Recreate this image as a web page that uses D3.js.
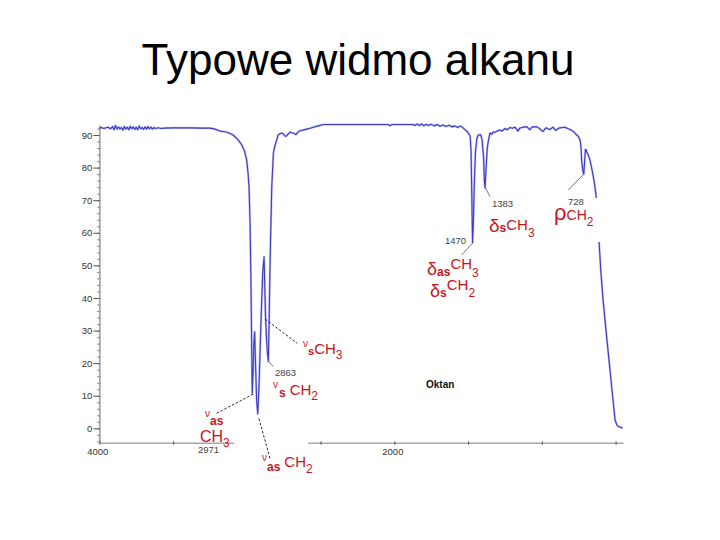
<!DOCTYPE html>
<html>
<head>
<meta charset="utf-8">
<script src="https://cdn.jsdelivr.net/npm/d3@7"></script>
<style>
  html, body { margin: 0; padding: 0; background: #fff; }
  svg { display: block; }
</style>
</head>
<body>
<svg id="chart" width="720" height="540"></svg>
<script>
// ---------------- DATA ----------------
const title = "Typowe widmo alkanu";

// wavenumber (cm-1) and transmittance (%)
const wavenumber = [
  4000, 3985, 3970, 3955, 3940, 3925, 3910, 3900, 3890, 3880, 3870, 3860, 3850, 3840, 3830,
  3820, 3810, 3800, 3790, 3780, 3770, 3760, 3750, 3740, 3730, 3720, 3710, 3700, 3690, 3680,
  3670, 3660, 3650, 3640, 3630, 3620, 3600, 3580, 3560, 3500, 3400, 3300, 3250, 3215, 3182,
  3148, 3120, 3093, 3060, 3035, 3015, 3001, 2992, 2985, 2978, 2972, 2967, 2963, 2958, 2952,
  2947, 2941, 2934, 2926, 2918, 2910, 2900, 2892, 2883, 2878, 2873, 2866, 2860, 2854, 2848,
  2842, 2838, 2831, 2820, 2808, 2797, 2787, 2775, 2763, 2750, 2742, 2734, 2720, 2707, 2696,
  2685, 2676, 2667, 2655, 2640, 2620, 2594, 2570, 2549, 2515, 2482, 2400, 2300, 2200, 2100,
  2040, 2029, 2018, 1950, 1873, 1860, 1845, 1830, 1815, 1800, 1785, 1770, 1750, 1730, 1710,
  1690, 1670, 1650, 1630, 1610, 1590, 1570, 1552, 1534, 1520, 1505, 1495, 1486, 1480, 1475,
  1470, 1465, 1458, 1450, 1440, 1431, 1415, 1405, 1395, 1390, 1385, 1378, 1370, 1363, 1352,
  1340, 1330, 1318, 1300, 1284, 1270, 1250, 1235, 1216, 1200, 1182, 1162, 1150, 1135, 1115,
  1101, 1081, 1070, 1060, 1033, 1013, 1000, 992, 980, 972, 960, 945, 924, 910, 904,
  890, 877, 860, 843, 825, 809, 790, 775, 765, 755, 741, 735, 730, 722, 716,
  710, 705, 700, 696, 685, 674, 663, 653, 643, 633, 625, 612, 600, 585, 565,
  545, 525, 504, 491, 480, 465, 452
];
const transmittance = [
  92.1, 92.3, 92.0, 92.2, 92.4, 91.9, 92.6, 91.6, 92.9, 91.8, 92.5, 91.9, 92.3, 91.5, 92.6,
  91.8, 92.4, 91.6, 92.7, 91.9, 92.5, 91.7, 92.4, 91.6, 92.8, 91.9, 92.3, 91.7, 92.5, 91.8,
  92.6, 91.9, 92.4, 91.8, 92.3, 92.0, 92.2, 92.0, 92.1, 92.2, 92.2, 92.1, 92.1, 91.8, 91.2,
  91.0, 90.6, 90.0, 88.6, 87.0, 85.0, 82.3, 78.5, 74.0, 63.0, 45.5, 25.0, 10.8, 17.0, 26.0,
  29.6, 20.0, 9.0, 4.4, 12.0, 24.0, 38.0, 48.0, 52.6, 43.0, 33.8, 27.0, 23.0, 20.5, 35.0,
  52.0, 60.0, 74.0, 84.4, 87.0, 88.5, 90.1, 90.4, 90.6, 90.2, 89.7, 89.6, 90.3, 90.9, 90.7,
  90.6, 90.4, 90.1, 90.8, 91.3, 91.5, 91.8, 92.1, 92.4, 92.8, 93.2, 93.2, 93.2, 93.2, 93.2,
  93.2, 92.8, 93.2, 93.2, 93.2, 92.9, 93.4, 92.9, 93.4, 92.8, 93.3, 92.9, 93.3, 92.8, 93.2,
  92.7, 93.1, 92.6, 93.0, 92.5, 92.8, 92.3, 92.8, 92.2, 91.6, 91.0, 90.4, 89.6, 85.0, 72.0,
  57.0, 62.0, 75.0, 85.0, 89.0, 90.0, 90.1, 88.5, 83.0, 76.0, 73.7, 80.0, 86.0, 88.1, 90.6,
  90.2, 90.9, 90.8, 91.3, 91.5, 91.2, 92.0, 91.6, 92.3, 92.1, 92.4, 91.2, 92.1, 92.3, 92.5,
  92.5, 91.6, 92.3, 92.5, 92.5, 91.9, 91.3, 91.1, 91.8, 92.2, 91.9, 91.7, 92.4, 91.6, 91.4,
  92.0, 92.2, 92.3, 92.4, 92.0, 91.7, 91.2, 90.6, 90.0, 89.7, 88.5, 86.5, 82.0, 79.0, 78.0,
  82.0, 85.5, 85.5, 84.8, 83.8, 82.3, 80.0, 77.7, 75.0, 71.6, 67.0, 57.0, 48.0, 39.4, 30.0,
  21.0, 12.0, 2.6, 1.0, 0.6, 0.3, 0.1
];

const yTicks = [0, 10, 20, 30, 40, 50, 60, 70, 80, 90];
const xTicks = [4000, 3500, 3000, 2500, 2000, 1500, 1000, 500];
const xTickLabels = [4000, 2000];
const sampleName = "Oktan";

// ---------------- CHART ----------------
const svg = d3.select("#chart");
const FONT = "'Liberation Sans', Arial, Helvetica, sans-serif";
const RED = "#c8141c";

const x = d3.scaleLinear().domain([4000, 450]).range([99.3, 623]);
const y = d3.scaleLinear().domain([-4.4, 93.1]).range([442.7, 124.9]);

// title
svg.append("text")
  .attr("x", 358).attr("y", 75)
  .attr("text-anchor", "middle")
  .attr("font-family", FONT)
  .attr("font-size", 44)
  .attr("fill", "#000")
  .text(title);

// y axis
const yMinor = d3.range(-4, 93, 2);
svg.append("g")
  .attr("transform", `translate(${x(4000)},0)`)
  .call(d3.axisLeft(y).tickValues(yMinor).tickSize(2).tickFormat(""))
  .call(g => g.select(".domain").remove())
  .call(g => g.selectAll("line").attr("stroke", "#777").attr("x2", -2).attr("x1", 1.5));

const yAxis = svg.append("g")
  .attr("transform", `translate(${x(4000)},0)`)
  .call(d3.axisLeft(y).tickValues(yTicks).tickSize(6).tickSizeOuter(0).tickPadding(1));
yAxis.select(".domain").attr("stroke", "#a0a0a0").attr("stroke-width", 1.6);
yAxis.selectAll(".tick line").attr("stroke", "#555");
yAxis.selectAll(".tick text")
  .attr("font-family", FONT).attr("font-size", 9.5).attr("fill", "#333");

// x axis
const xAxis = svg.append("g")
  .attr("transform", `translate(0,${y(-4.4)})`)
  .call(d3.axisBottom(x).tickValues(xTicks).tickSize(2).tickSizeOuter(0).tickPadding(4)
    .tickFormat(d => xTickLabels.includes(d) ? d : ""));
xAxis.select(".domain").attr("stroke", "#a8a8a8").attr("stroke-width", 1.6);
xAxis.selectAll(".tick line").attr("stroke", "#555").attr("y1", -1.5);
xAxis.selectAll(".tick text")
  .attr("font-family", FONT).attr("font-size", 9.5).attr("fill", "#333")
  .attr("dx", -2);

// spectrum
const pts = wavenumber.map((w, i) => [w, transmittance[i]]);
const line = d3.line().x(d => x(d[0])).y(d => y(d[1]));
svg.append("path")
  .datum(pts)
  .attr("d", line)
  .attr("fill", "none")
  .attr("stroke", "#8c8cf0")
  .attr("stroke-width", 2.2)
  .attr("stroke-linejoin", "round")
  .attr("opacity", 0.55);
svg.append("path")
  .datum(pts)
  .attr("d", line)
  .attr("fill", "none")
  .attr("stroke", "#3c3cc4")
  .attr("stroke-width", 1.1)
  .attr("stroke-linejoin", "round");

// white boxes under pasted labels
const boxes = svg.append("g").attr("fill", "#fff");
boxes.append("rect").attr("x", 234).attr("y", 436).attr("width", 74).attr("height", 12);
boxes.append("rect").attr("x", 552).attr("y", 198).attr("width", 50).attr("height", 44);

// leader lines: [wn, T] start -> pixel end
const leaders = svg.append("g");
function leader(w, t, ex, ey, dashed) {
  leaders.append("line")
    .attr("x1", x(w)).attr("y1", y(t)).attr("x2", ex).attr("y2", ey)
    .attr("stroke", dashed ? "#111" : "#555")
    .attr("stroke-width", dashed ? 0.9 : 0.8)
    .attr("stroke-dasharray", dashed ? "2.5,1.8" : null);
}
leader(2957, 10.5, 216.7, 413.3, true);
leader(2918, 3.0, 270, 458.3, true);
leader(2875, 33.5, 297.3, 343.3, true);
leader(2851, 20.5, 273.3, 366.7, false);
leader(1467, 57, 461.7, 255, false);
leader(1381, 73.7, 490, 196.7, false);
leader(716, 78, 568.3, 190, false);

// numeric peak labels
function num(tx, px, py) {
  svg.append("text").attr("x", px).attr("y", py)
    .attr("font-family", FONT).attr("font-size", 9.5)
    .attr("fill", "#444").text(tx);
}
num("2863", 275, 376);
num("2971", 198, 453);
num("1470", 445, 243.5);
num("1383", 492, 207);
num("728", 568, 205);

// chemical labels built from segments: [text, size, baseline offset, bold, dx]
function chem(px, py, segs) {
  const t = svg.append("text").attr("x", px).attr("y", py)
    .attr("font-family", FONT).attr("fill", RED);
  segs.forEach(([s, size, off, bold, dx]) => {
    t.append("tspan").attr("y", py + off)
      .attr("dx", dx || 0)
      .attr("font-size", size)
      .attr("font-weight", bold ? "bold" : "normal")
      .text(s);
  });
}
chem(303, 354, [["ν", 10, -7], ["s", 11, 1, true], ["CH", 15, 0], ["3", 12, 5]]);
chem(273, 395, [["ν", 10, -7], ["s", 12, 2, true, 1], ["CH", 15, 0, false, 4], ["2", 12, 5]]);
chem(205, 425, [["ν", 10, -8], ["as", 12, 0, true]]);
chem(200, 442, [["CH", 16, 0], ["3", 12, 5]]);
chem(262, 467, [["ν", 10, -6], ["as", 12, 4, true], ["CH", 15, 0, false, 4], ["2", 12, 6]]);
chem(427, 268.5, [["δ", 18, 6.5], ["as", 12, 7, true], ["CH", 15, 0], ["3", 12, 8]]);
chem(430, 290, [["δ", 18, 6.5], ["s", 12, 7, true], ["CH", 15, 0], ["2", 12, 7]]);
chem(489, 230, [["δ", 19, 1.5], ["s", 12, 1.5, true], ["CH", 15, 0], ["3", 12, 7]]);
chem(554, 220, [["ρ", 22, 0], ["CH", 14, 0], ["2", 12, 6]]);

// sample name
svg.append("text").attr("x", 426).attr("y", 388)
  .attr("font-family", FONT).attr("font-size", 10).attr("font-weight", "bold")
  .attr("fill", "#111").text(sampleName);
</script>
</body>
</html>
